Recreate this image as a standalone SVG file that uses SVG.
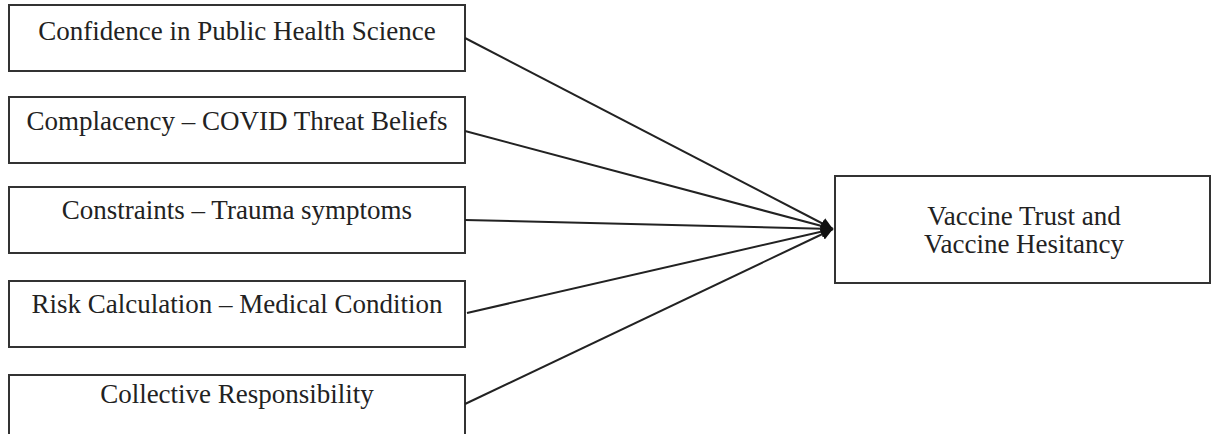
<svg xmlns="http://www.w3.org/2000/svg" width="1213" height="434" viewBox="0 0 1213 434">
<style>
.box{fill:#fff;stroke:#333;stroke-width:2}
.t{font-family:"Liberation Serif","Times New Roman",serif;font-size:27px;fill:#222;text-anchor:middle}
.c{stroke:#222;stroke-width:2;fill:none}
</style>
<defs>
<marker id="ah" viewBox="0 0 10 10" refX="10" refY="5" markerWidth="6" markerHeight="6" orient="auto" markerUnits="strokeWidth">
<path d="M0,0 L10,5 L0,10 z" fill="#111"/>
</marker>
</defs>
<rect width="1213" height="434" fill="#fff"/>
<g id="n1"><rect class="box" x="9" y="5" width="456" height="66"/><text class="t" x="237" y="40">Confidence in Public Health Science</text></g>
<g id="n2"><rect class="box" x="9" y="97" width="456" height="66"/><text class="t" x="237" y="130">Complacency – COVID Threat Beliefs</text></g>
<g id="n3"><rect class="box" x="9" y="187" width="456" height="66"/><text class="t" x="237" y="219">Constraints – Trauma symptoms</text></g>
<g id="n4"><rect class="box" x="9" y="281" width="456" height="66"/><text class="t" x="237" y="313">Risk Calculation – Medical Condition</text></g>
<g id="n5"><rect class="box" x="9" y="375" width="456" height="66"/><text class="t" x="237" y="403">Collective Responsibility</text></g>
<g id="n6"><rect class="box" x="835" y="176" width="375" height="107"/><text class="t" x="1024" y="225">Vaccine Trust and</text><text class="t" x="1024" y="253">Vaccine Hesitancy</text></g>
<g id="connectors">
<line class="c" x1="465" y1="38" x2="833" y2="229" marker-end="url(#ah)"/>
<line class="c" x1="465" y1="131" x2="833" y2="229" marker-end="url(#ah)"/>
<line class="c" x1="465" y1="220" x2="833" y2="229" marker-end="url(#ah)"/>
<line class="c" x1="467" y1="313" x2="833" y2="229" marker-end="url(#ah)"/>
<line class="c" x1="465" y1="404" x2="833" y2="229" marker-end="url(#ah)"/>
</g>
</svg>
